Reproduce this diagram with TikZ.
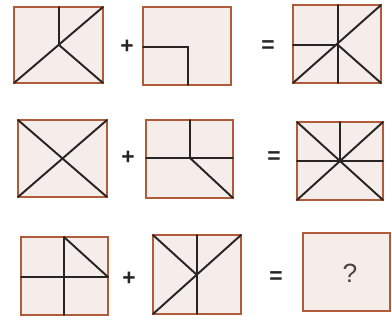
\documentclass[tikz,border=0pt]{standalone}
\usepackage{fontspec}
\setmainfont{Liberation Sans}
\definecolor{edge}{RGB}{176,92,58}
\definecolor{paper}{RGB}{244,237,234}
\definecolor{ink}{RGB}{40,36,34}
\begin{document}
\begin{tikzpicture}[x=0.02cm,y=-0.02cm,
  card/.style={draw=edge,fill=paper,line width=1.5pt},
  seg/.style={draw=ink,line width=1.1pt,line cap=round},
  op/.style={font=\bfseries\fontsize{13}{13}\selectfont,text=ink,inner sep=0pt},
  qm/.style={font=\fontsize{15}{15}\selectfont,text=ink!85,inner sep=0pt}]
\useasboundingbox[fill=white] (0,0) rectangle (392,325);
% Row 1
\draw[card] (14,7) rectangle (103,83);
\coordinate (a1) at (59,45);
\draw[seg] (59,7) -- (a1);
\draw[seg] (14,83) -- (103,7);
\draw[seg] (a1) -- (103,83);
\node[op] (p1) at (127,47) {+};
\draw[card] (143,7) rectangle (231,85);
\draw[seg] (143,47) -- (188,47) -- (188,85);
\node[op] (e1) at (268,47) {=};
\draw[card] (293,5) rectangle (381,83);
\coordinate (c1) at (338,45);
\draw[seg] (338,5) -- (338,83);
\draw[seg] (293,45) -- (c1);
\draw[seg] (293,83) -- (381,5);
\draw[seg] (c1) -- (381,83);
% Row 2
\draw[card] (18,120) rectangle (107,197);
\draw[seg] (18,120) -- (107,197);
\draw[seg] (18,197) -- (107,120);
\node[op] (p2) at (128,158) {+};
\draw[card] (146,120) rectangle (233,198);
\draw[seg] (190,120) -- (190,158);
\draw[seg] (146,158) -- (233,158);
\draw[seg] (190,158) -- (233,198);
\node[op] (e2) at (274,158) {=};
\draw[card] (297,122) rectangle (383,200);
\draw[seg] (340,122) -- (340,161);
\draw[seg] (297,161) -- (383,161);
\draw[seg] (297,122) -- (383,200);
\draw[seg] (297,200) -- (383,122);
% Row 3
\draw[card] (21,237) rectangle (108,315);
\draw[seg] (64,237) -- (64,315);
\draw[seg] (21,277) -- (108,277);
\draw[seg] (64,237) -- (108,277);
\node[op] (p3) at (129,279) {+};
\draw[card] (153,235) rectangle (241,314);
\coordinate (c3) at (197,275);
\draw[seg] (197,235) -- (197,314);
\draw[seg] (153,235) -- (c3);
\draw[seg] (153,314) -- (241,235);
\node[op] (e3) at (276,278) {=};
\draw[card] (303,233) rectangle (390,311);
\node[qm] (q) at (350,273) {?};
\end{tikzpicture}
\end{document}
